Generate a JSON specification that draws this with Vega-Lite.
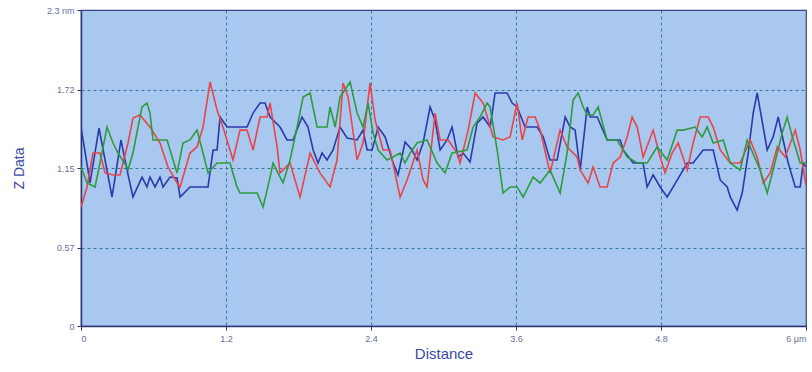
{
  "$schema": "https://vega.github.io/schema/vega-lite/v6.json",
  "width": 725,
  "height": 316,
  "autosize": {"type": "none"},
  "padding": {"left": 81, "top": 10, "right": 6, "bottom": 46},
  "background": "#ffffff",
  "view": {"fill": "#a8c8f0", "stroke": "#3a4384", "strokeWidth": 1.2},
  "config": {"font": "Liberation Sans"},
  "data": {"values": [
    {"s":"b","x":0,"y":1.448},{"s":"b","x":0.075,"y":1.041},{"s":"b","x":0.149,"y":1.441},{"s":"b","x":0.257,"y":0.939},{"s":"b","x":0.331,"y":1.354},{"s":"b","x":0.381,"y":1.135},{"s":"b","x":0.430,"y":0.939},{"s":"b","x":0.505,"y":1.084},{"s":"b","x":0.546,"y":1.012},{"s":"b","x":0.571,"y":1.084},{"s":"b","x":0.613,"y":1.012},{"s":"b","x":0.654,"y":1.084},{"s":"b","x":0.679,"y":1.012},{"s":"b","x":0.737,"y":1.084},{"s":"b","x":0.795,"y":1.077},{"s":"b","x":0.820,"y":0.939},{"s":"b","x":0.902,"y":1.012},{"s":"b","x":1.051,"y":1.012},{"s":"b","x":1.093,"y":1.281},{"s":"b","x":1.126,"y":1.281},{"s":"b","x":1.151,"y":1.521},{"s":"b","x":1.209,"y":1.448},{"s":"b","x":1.374,"y":1.448},{"s":"b","x":1.424,"y":1.550},{"s":"b","x":1.482,"y":1.623},{"s":"b","x":1.523,"y":1.623},{"s":"b","x":1.565,"y":1.521},{"s":"b","x":1.647,"y":1.448},{"s":"b","x":1.705,"y":1.354},{"s":"b","x":1.755,"y":1.354},{"s":"b","x":1.829,"y":1.521},{"s":"b","x":1.879,"y":1.448},{"s":"b","x":1.921,"y":1.281},{"s":"b","x":1.962,"y":1.186},{"s":"b","x":1.995,"y":1.259},{"s":"b","x":2.036,"y":1.208},{"s":"b","x":2.086,"y":1.281},{"s":"b","x":2.144,"y":1.448},{"s":"b","x":2.202,"y":1.368},{"s":"b","x":2.285,"y":1.354},{"s":"b","x":2.334,"y":1.426},{"s":"b","x":2.368,"y":1.281},{"s":"b","x":2.409,"y":1.281},{"s":"b","x":2.459,"y":1.448},{"s":"b","x":2.517,"y":1.376},{"s":"b","x":2.583,"y":1.186},{"s":"b","x":2.624,"y":1.099},{"s":"b","x":2.682,"y":1.339},{"s":"b","x":2.740,"y":1.281},{"s":"b","x":2.781,"y":1.208},{"s":"b","x":2.831,"y":1.332},{"s":"b","x":2.889,"y":1.594},{"s":"b","x":2.930,"y":1.499},{"s":"b","x":2.972,"y":1.281},{"s":"b","x":3.030,"y":1.354},{"s":"b","x":3.071,"y":1.448},{"s":"b","x":3.121,"y":1.230},{"s":"b","x":3.162,"y":1.259},{"s":"b","x":3.220,"y":1.194},{"s":"b","x":3.278,"y":1.477},{"s":"b","x":3.328,"y":1.521},{"s":"b","x":3.386,"y":1.448},{"s":"b","x":3.427,"y":1.696},{"s":"b","x":3.526,"y":1.696},{"s":"b","x":3.568,"y":1.623},{"s":"b","x":3.609,"y":1.594},{"s":"b","x":3.675,"y":1.448},{"s":"b","x":3.775,"y":1.448},{"s":"b","x":3.825,"y":1.376},{"s":"b","x":3.882,"y":1.208},{"s":"b","x":3.940,"y":1.208},{"s":"b","x":4.007,"y":1.521},{"s":"b","x":4.048,"y":1.448},{"s":"b","x":4.089,"y":1.426},{"s":"b","x":4.131,"y":1.135},{"s":"b","x":4.189,"y":1.594},{"s":"b","x":4.214,"y":1.521},{"s":"b","x":4.272,"y":1.521},{"s":"b","x":4.354,"y":1.354},{"s":"b","x":4.462,"y":1.354},{"s":"b","x":4.487,"y":1.281},{"s":"b","x":4.570,"y":1.186},{"s":"b","x":4.652,"y":1.186},{"s":"b","x":4.685,"y":1.012},{"s":"b","x":4.735,"y":1.099},{"s":"b","x":4.793,"y":1.012},{"s":"b","x":4.851,"y":0.939},{"s":"b","x":4.901,"y":1.012},{"s":"b","x":5.017,"y":1.186},{"s":"b","x":5.066,"y":1.186},{"s":"b","x":5.149,"y":1.281},{"s":"b","x":5.232,"y":1.281},{"s":"b","x":5.290,"y":1.063},{"s":"b","x":5.348,"y":1.012},{"s":"b","x":5.373,"y":0.939},{"s":"b","x":5.430,"y":0.844},{"s":"b","x":5.472,"y":0.968},{"s":"b","x":5.522,"y":1.259},{"s":"b","x":5.563,"y":1.550},{"s":"b","x":5.596,"y":1.696},{"s":"b","x":5.621,"y":1.572},{"s":"b","x":5.679,"y":1.281},{"s":"b","x":5.728,"y":1.376},{"s":"b","x":5.770,"y":1.521},{"s":"b","x":5.811,"y":1.354},{"s":"b","x":5.853,"y":1.186},{"s":"b","x":5.911,"y":1.012},{"s":"b","x":5.952,"y":1.012},{"s":"b","x":5.977,"y":1.186},{"s":"b","x":6.0,"y":1.157},
    {"s":"r","x":0,"y":0.866},{"s":"r","x":0.050,"y":1.012},{"s":"r","x":0.099,"y":1.259},{"s":"r","x":0.157,"y":1.259},{"s":"r","x":0.199,"y":1.114},{"s":"r","x":0.265,"y":1.099},{"s":"r","x":0.323,"y":1.099},{"s":"r","x":0.389,"y":1.332},{"s":"r","x":0.430,"y":1.514},{"s":"r","x":0.488,"y":1.536},{"s":"r","x":0.571,"y":1.448},{"s":"r","x":0.654,"y":1.332},{"s":"r","x":0.720,"y":1.157},{"s":"r","x":0.795,"y":1.041},{"s":"r","x":0.820,"y":1.012},{"s":"r","x":0.902,"y":1.259},{"s":"r","x":0.960,"y":1.303},{"s":"r","x":1.010,"y":1.448},{"s":"r","x":1.068,"y":1.776},{"s":"r","x":1.126,"y":1.572},{"s":"r","x":1.175,"y":1.448},{"s":"r","x":1.258,"y":1.208},{"s":"r","x":1.316,"y":1.426},{"s":"r","x":1.374,"y":1.426},{"s":"r","x":1.424,"y":1.281},{"s":"r","x":1.482,"y":1.521},{"s":"r","x":1.540,"y":1.521},{"s":"r","x":1.565,"y":1.623},{"s":"r","x":1.623,"y":1.303},{"s":"r","x":1.647,"y":1.114},{"s":"r","x":1.730,"y":1.186},{"s":"r","x":1.813,"y":0.939},{"s":"r","x":1.896,"y":1.259},{"s":"r","x":1.978,"y":1.114},{"s":"r","x":2.061,"y":1.012},{"s":"r","x":2.119,"y":1.208},{"s":"r","x":2.169,"y":1.769},{"s":"r","x":2.210,"y":1.667},{"s":"r","x":2.285,"y":1.208},{"s":"r","x":2.334,"y":1.332},{"s":"r","x":2.392,"y":1.769},{"s":"r","x":2.434,"y":1.499},{"s":"r","x":2.500,"y":1.281},{"s":"r","x":2.558,"y":1.281},{"s":"r","x":2.641,"y":0.939},{"s":"r","x":2.699,"y":1.063},{"s":"r","x":2.781,"y":1.281},{"s":"r","x":2.831,"y":1.063},{"s":"r","x":2.864,"y":1.012},{"s":"r","x":2.930,"y":1.550},{"s":"r","x":2.972,"y":1.354},{"s":"r","x":3.038,"y":1.354},{"s":"r","x":3.113,"y":1.259},{"s":"r","x":3.137,"y":1.186},{"s":"r","x":3.204,"y":1.426},{"s":"r","x":3.262,"y":1.696},{"s":"r","x":3.328,"y":1.623},{"s":"r","x":3.411,"y":1.376},{"s":"r","x":3.493,"y":1.354},{"s":"r","x":3.551,"y":1.376},{"s":"r","x":3.609,"y":1.623},{"s":"r","x":3.651,"y":1.354},{"s":"r","x":3.700,"y":1.521},{"s":"r","x":3.758,"y":1.521},{"s":"r","x":3.800,"y":1.426},{"s":"r","x":3.882,"y":1.114},{"s":"r","x":3.965,"y":1.426},{"s":"r","x":4.023,"y":1.303},{"s":"r","x":4.106,"y":1.230},{"s":"r","x":4.131,"y":1.135},{"s":"r","x":4.197,"y":1.041},{"s":"r","x":4.238,"y":1.157},{"s":"r","x":4.296,"y":1.012},{"s":"r","x":4.354,"y":1.012},{"s":"r","x":4.404,"y":1.186},{"s":"r","x":4.462,"y":1.230},{"s":"r","x":4.520,"y":1.376},{"s":"r","x":4.561,"y":1.521},{"s":"r","x":4.603,"y":1.448},{"s":"r","x":4.652,"y":1.230},{"s":"r","x":4.735,"y":1.426},{"s":"r","x":4.793,"y":1.230},{"s":"r","x":4.834,"y":1.114},{"s":"r","x":4.892,"y":1.259},{"s":"r","x":4.942,"y":1.332},{"s":"r","x":5.017,"y":1.135},{"s":"r","x":5.066,"y":1.332},{"s":"r","x":5.124,"y":1.521},{"s":"r","x":5.190,"y":1.521},{"s":"r","x":5.232,"y":1.448},{"s":"r","x":5.290,"y":1.281},{"s":"r","x":5.373,"y":1.186},{"s":"r","x":5.455,"y":1.186},{"s":"r","x":5.513,"y":1.303},{"s":"r","x":5.538,"y":1.354},{"s":"r","x":5.596,"y":1.230},{"s":"r","x":5.646,"y":1.041},{"s":"r","x":5.704,"y":1.114},{"s":"r","x":5.762,"y":1.303},{"s":"r","x":5.828,"y":1.230},{"s":"r","x":5.911,"y":1.426},{"s":"r","x":5.952,"y":1.281},{"s":"r","x":6.0,"y":1.026},
    {"s":"g","x":0,"y":1.157},{"s":"g","x":0.050,"y":1.041},{"s":"g","x":0.116,"y":1.012},{"s":"g","x":0.157,"y":1.186},{"s":"g","x":0.215,"y":1.448},{"s":"g","x":0.265,"y":1.332},{"s":"g","x":0.306,"y":1.259},{"s":"g","x":0.381,"y":1.157},{"s":"g","x":0.389,"y":1.135},{"s":"g","x":0.430,"y":1.259},{"s":"g","x":0.472,"y":1.448},{"s":"g","x":0.505,"y":1.594},{"s":"g","x":0.546,"y":1.623},{"s":"g","x":0.571,"y":1.550},{"s":"g","x":0.596,"y":1.354},{"s":"g","x":0.712,"y":1.354},{"s":"g","x":0.762,"y":1.208},{"s":"g","x":0.795,"y":1.114},{"s":"g","x":0.844,"y":1.332},{"s":"g","x":0.902,"y":1.354},{"s":"g","x":0.960,"y":1.426},{"s":"g","x":1.010,"y":1.259},{"s":"g","x":1.051,"y":1.114},{"s":"g","x":1.126,"y":1.186},{"s":"g","x":1.233,"y":1.186},{"s":"g","x":1.291,"y":1.012},{"s":"g","x":1.316,"y":0.968},{"s":"g","x":1.457,"y":0.968},{"s":"g","x":1.507,"y":0.866},{"s":"g","x":1.565,"y":1.084},{"s":"g","x":1.589,"y":1.186},{"s":"g","x":1.672,"y":1.041},{"s":"g","x":1.730,"y":1.208},{"s":"g","x":1.788,"y":1.448},{"s":"g","x":1.838,"y":1.667},{"s":"g","x":1.896,"y":1.696},{"s":"g","x":1.954,"y":1.448},{"s":"g","x":2.036,"y":1.448},{"s":"g","x":2.061,"y":1.594},{"s":"g","x":2.103,"y":1.448},{"s":"g","x":2.144,"y":1.667},{"s":"g","x":2.227,"y":1.776},{"s":"g","x":2.285,"y":1.550},{"s":"g","x":2.334,"y":1.448},{"s":"g","x":2.376,"y":1.623},{"s":"g","x":2.417,"y":1.405},{"s":"g","x":2.459,"y":1.281},{"s":"g","x":2.533,"y":1.208},{"s":"g","x":2.641,"y":1.259},{"s":"g","x":2.682,"y":1.186},{"s":"g","x":2.724,"y":1.259},{"s":"g","x":2.781,"y":1.332},{"s":"g","x":2.864,"y":1.354},{"s":"g","x":2.947,"y":1.186},{"s":"g","x":3.013,"y":1.114},{"s":"g","x":3.071,"y":1.259},{"s":"g","x":3.195,"y":1.281},{"s":"g","x":3.245,"y":1.448},{"s":"g","x":3.303,"y":1.521},{"s":"g","x":3.361,"y":1.623},{"s":"g","x":3.386,"y":1.594},{"s":"g","x":3.444,"y":1.281},{"s":"g","x":3.493,"y":0.968},{"s":"g","x":3.551,"y":1.012},{"s":"g","x":3.609,"y":1.012},{"s":"g","x":3.659,"y":0.939},{"s":"g","x":3.742,"y":1.084},{"s":"g","x":3.800,"y":1.041},{"s":"g","x":3.882,"y":1.135},{"s":"g","x":3.965,"y":0.968},{"s":"g","x":4.023,"y":1.259},{"s":"g","x":4.073,"y":1.645},{"s":"g","x":4.114,"y":1.696},{"s":"g","x":4.156,"y":1.594},{"s":"g","x":4.189,"y":1.536},{"s":"g","x":4.238,"y":1.536},{"s":"g","x":4.280,"y":1.594},{"s":"g","x":4.354,"y":1.354},{"s":"g","x":4.437,"y":1.354},{"s":"g","x":4.520,"y":1.230},{"s":"g","x":4.603,"y":1.186},{"s":"g","x":4.685,"y":1.186},{"s":"g","x":4.768,"y":1.303},{"s":"g","x":4.851,"y":1.208},{"s":"g","x":4.934,"y":1.426},{"s":"g","x":4.983,"y":1.426},{"s":"g","x":5.083,"y":1.448},{"s":"g","x":5.141,"y":1.376},{"s":"g","x":5.182,"y":1.448},{"s":"g","x":5.232,"y":1.332},{"s":"g","x":5.315,"y":1.354},{"s":"g","x":5.373,"y":1.186},{"s":"g","x":5.455,"y":1.135},{"s":"g","x":5.513,"y":1.354},{"s":"g","x":5.621,"y":1.135},{"s":"g","x":5.679,"y":0.968},{"s":"g","x":5.728,"y":1.135},{"s":"g","x":5.803,"y":1.405},{"s":"g","x":5.844,"y":1.521},{"s":"g","x":5.894,"y":1.354},{"s":"g","x":5.952,"y":1.186},{"s":"g","x":6.0,"y":1.186}
  ]},
  "mark": {"type": "line", "strokeWidth": 1.6, "interpolate": "linear", "clip": true},
  "encoding": {
    "x": {
      "field": "x", "type": "quantitative",
      "scale": {"domain": [0, 6], "nice": false, "zero": false},
      "axis": {
        "values": [0, 1.2, 2.4, 3.6, 4.8, 6],
        "labelExpr": "datum.value == 0 ? '0' : datum.value == 6 ? '6 µm' : format(datum.value, '.1f')",
        "title": "Distance",
        "titleFontSize": 15, "titleFontWeight": "normal", "titleColor": "#3a48a6", "titlePadding": 3,
        "labelFontSize": 9, "labelColor": "#6a6e9e", "labelPadding": 4,
        "domainColor": "#2f3676", "domainWidth": 1.5,
        "tickColor": "#2f3676", "tickSize": 4,
        "grid": true, "gridColor": "#2a7090", "gridDash": [3, 3], "gridWidth": 1,
        "gridOpacity": {"condition": {"test": "datum.value == 0 || datum.value == 6", "value": 0}, "value": 0.9}
      }
    },
    "y": {
      "field": "y", "type": "quantitative",
      "scale": {"domain": [0, 2.3], "nice": false, "zero": false},
      "axis": {
        "values": [0, 0.57, 1.15, 1.72, 2.3],
        "labelExpr": "datum.value == 0 ? '0' : datum.value == 2.3 ? '2.3 nm' : format(datum.value, '.2f')",
        "title": "Z Data",
        "titleFontSize": 14, "titleFontWeight": "normal", "titleColor": "#3a48a6", "titlePadding": 20,
        "labelFontSize": 9, "labelColor": "#6a6e9e", "labelPadding": 3,
        "domainColor": "#2f3676", "domainWidth": 1.5,
        "tickColor": "#2f3676", "tickSize": 4,
        "grid": true, "gridColor": "#2a7090", "gridDash": [3, 3], "gridWidth": 1,
        "gridOpacity": {"condition": {"test": "datum.value == 0 || datum.value == 2.3", "value": 0}, "value": 0.9}
      }
    },
    "color": {
      "field": "s", "type": "nominal", "legend": null,
      "scale": {"domain": ["g", "r", "b"], "range": ["#2f9a3e", "#e8454a", "#2b3aa8"]}
    }
  }
}
